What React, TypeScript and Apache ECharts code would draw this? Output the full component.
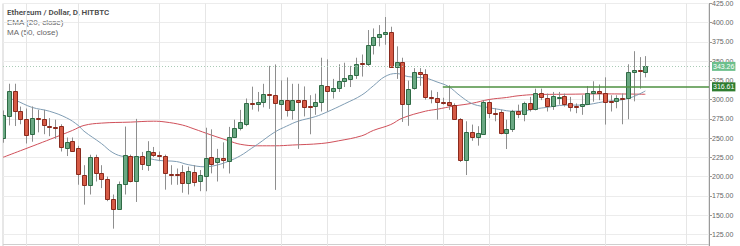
import React, { useEffect, useRef } from "react";
import * as echarts from "echarts";

// ---- candle values, index = day ----
const opens = [
  249.6, 279.4, 311.4, 284.7, 275.4, 255.1, 276.3, 275, 265.5, 264.6,
  265.7, 236.9, 246.2, 236.9, 202, 189.4, 225.4, 205, 197, 170.3,
  157.6, 190.2, 226.7, 193.7, 226.7, 214.7, 232.4, 228.6, 227.4, 203.9,
  203.5, 205.4, 192.2, 206.6, 194.8, 200.7, 225.3, 218.5, 224.8, 220.2,
  251.5, 263.4, 268.5, 295.1, 293.9, 296.5, 307.9, 306.6, 294.8, 299.3,
  286.6, 300.2, 299.3, 291.7, 292, 297.2, 318.4, 311.2, 314.7, 324.4,
  327.4, 332.4, 347.6, 346, 371.5, 382, 385.5, 388.4, 343, 349,
  293.9, 315.1, 336.3, 333.3, 303.6, 302.3, 296.8, 297.2, 293, 274.8,
  221.8, 257.9, 251.5, 255.7, 296.4, 282.6, 283.7, 256.7, 261.8, 285.4,
  281.2, 295.2, 288, 309.2, 302.8, 292.2, 303.2, 304.8, 295.9, 291.4,
  291.4, 294, 308.3, 310.8, 309, 298.4, 298.6, 302.6, 301.9, 336.3,
  338.8, 335.4,
];
const closes = [
  280.5, 311.4, 285.6, 275.4, 254.2, 276.3, 274.8, 266.5, 264.6, 263.5,
  239, 245.3, 233.9, 203.4, 189.4, 225.4, 204.2, 196.6, 170.3, 157.6,
  190.2, 227.5, 194.5, 227, 216.9, 233.7, 228.2, 226.5, 204.1, 203.2,
  203, 192.2, 207.5, 193, 202, 224.4, 216.8, 224.4, 221.5, 252,
  263.4, 271, 295.1, 293.9, 296.9, 307.9, 306.6, 296.1, 299.3, 286.6,
  300.2, 297.2, 290.8, 290.8, 297.2, 319.6, 311.2, 315.5, 324.4, 327.8,
  332.4, 346.8, 346, 371.5, 381.3, 385.5, 387.6, 343, 349.4, 294.3,
  314.3, 336.3, 333.3, 303.6, 303.2, 297.2, 296.4, 293, 274.8, 221.8,
  257.9, 251.5, 256.2, 296.4, 282.4, 282.2, 257, 261.8, 284.6, 281.6,
  295.2, 288, 309.2, 303.6, 292.2, 305, 303.8, 295, 290.8, 291,
  294, 308.3, 311.7, 308.7, 297.3, 297.6, 302.8, 302.2, 336.3, 338.4,
  336.7, 343.26,
];
const lows = [
  244, 266.5, 265.7, 268, 243, 245.3, 257.5, 255.1, 252.5, 249,
  232.6, 226.7, 232.6, 189.4, 163.5, 176.7, 193.6, 185, 168, 132.3,
  156.8, 176.7, 192.5, 167, 208.5, 207.5, 225.5, 220, 183, 189.4,
  189.3, 179, 176.7, 187.3, 181, 180.9, 204.2, 193.6, 210.6, 204,
  250, 260, 265.5, 287, 284.6, 290, 288, 182.7, 274, 278,
  274, 236, 278.2, 255, 280.3, 284.6, 284.6, 301.5, 310, 316.4,
  316.4, 327, 330, 343.9, 358.7, 369.3, 371.4, 341.8, 327, 271,
  266, 313, 318, 300, 295.2, 274, 293.5, 286.7, 274, 218.9,
  202, 246.5, 240.2, 255, 276, 271.9, 254.9, 235.8, 258, 276,
  271.9, 284.6, 286, 299.4, 284.6, 286.7, 293.5, 291, 284.6, 282.4,
  280.3, 293, 297.3, 299.4, 267.6, 284.6, 288.8, 268, 274.6, 297.8,
  314.3, 329,
];
const highs = [
  286, 320.7, 320.7, 291, 288.5, 291.2, 286.8, 286.8, 276, 274,
  268, 250.8, 250.8, 240, 214.8, 228.4, 228.4, 214.8, 200, 176.7,
  193.6, 265, 228.5, 275, 232, 246, 238.5, 232.6, 228.5, 214.8,
  210.5, 214.8, 213, 214.8, 208.5, 263.5, 261.4, 236, 244.5, 264.6,
  274, 286.7, 301.5, 316.9, 310, 320.6, 343.9, 345.8, 325, 328.9,
  320.6, 320.6, 317.2, 305.8, 307.8, 354.5, 352.4, 327, 346, 348,
  343.9, 354.5, 358.7, 390.5, 392.6, 396.9, 407.4, 394.8, 369.3, 354.5,
  324.8, 341, 341, 339.6, 312.1, 310, 302.5, 318.7, 295.2, 276,
  271.9, 267.6, 265.5, 299.4, 299.4, 288.8, 286.7, 274, 286.7, 293.5,
  297.3, 303.6, 314.3, 314.3, 307.9, 310, 310, 307.9, 303.6, 295.1,
  305.8, 317.7, 323.9, 319.7, 329, 305.8, 305.8, 308, 346, 363,
  355.3, 356.6,
];

// ---- indicator lines read at sample days ----
const emaDays = [1, 2, 5, 8, 11, 13, 14, 17, 19, 21, 24, 27, 30, 32, 35, 37, 39, 41, 43, 44, 47, 49, 51, 54, 56, 59, 62, 64, 66, 68, 70, 73, 75, 77, 79, 81, 83, 86, 88, 90, 92, 94, 97, 100, 104, 108, 111];
const emaValues = [301, 299.6, 290, 285, 276.3, 266.5, 259, 243, 231, 226, 225, 221, 219.5, 215.5, 212.7, 215, 220, 227, 237, 242, 258, 265.5, 272, 278, 284, 294.5, 306, 318, 330, 334, 330, 328, 323, 317, 305, 295, 291, 287, 285, 285.5, 288, 290, 292.8, 293, 297.5, 301.5, 311.3];
const maDays = [0, 3, 6, 9, 12, 14, 17, 22, 26, 28, 31, 33, 36, 39, 41, 44, 47, 50, 55, 58, 62, 64, 67, 69, 73, 75, 78, 81, 84, 87, 89, 92, 97, 104, 111];
const maValues = [225, 233.6, 242.2, 251, 260, 266.5, 269.5, 270.8, 272, 271, 267, 262, 254, 246.6, 242, 240, 240, 241, 243, 246.5, 253, 260, 267.6, 276, 285, 287.5, 291.8, 295.2, 300.2, 302.8, 305, 306.6, 307, 307.5, 307];

// ---- axis / annotations ----
const SLOTS = 123;
const categories = Array.from({ length: SLOTS }, (_, i) => String(i));
const dayGridLines = [4, 13, 27, 35, 48, 56, 66, 76, 84, 104, 118];
const levelValue = 316.61;
const levelStartDay = 76;
const lastClose = closes[closes.length - 1];
const titleLines = ["Ethereum / Dollar, D, HITBTC", "EMA (20, close)", "MA (50, close)"];

const UP_FILL = "#6aa883";
const UP_LINE = "#2f6b45";
const DN_FILL = "#d65a45";
const DN_LINE = "#8a2a1d";
const WICK = "#8e8e8e";
const FONT = "'Liberation Sans', Arial, sans-serif";

export default function App() {
  const ref = useRef<HTMLDivElement>(null);

  useEffect(() => {
    if (!ref.current) return;
    const chart = echarts.init(ref.current, null, { renderer: "svg" });
    const candleData = opens.map((o, i) => [i, o, closes[i], lows[i], highs[i]]);
    const ema = emaDays.map((d, i) => [d, emaValues[i]]);
    const ma = maDays.map((d, i) => [d, maValues[i]]);
    const gridSet = new Set(dayGridLines);

    const boxLabel = (text: string, bg: string) => ({
      show: true,
      position: "end",
      distance: 3,
      formatter: () => text,
      color: "#ffffff",
      backgroundColor: bg,
      fontSize: 7,
      fontFamily: FONT,
      lineHeight: 8,
      padding: [1, 1, 0, 1],
    });

    chart.setOption({
      animation: false,
      backgroundColor: "#ffffff",
      grid: {
        left: 3,
        right: 31,
        top: 1,
        bottom: 0,
        show: true,
        borderColor: "#cfcfcf",
        borderWidth: 1,
      },
      xAxis: {
        type: "category",
        data: categories,
        boundaryGap: false,
        axisLine: { show: false },
        axisTick: { show: false },
        axisLabel: { show: false },
        splitLine: {
          show: true,
          interval: (index: number) => gridSet.has(index),
          lineStyle: { color: "#e6e6e6", width: 1 },
        },
      },
      yAxis: {
        type: "value",
        position: "right",
        min: 100,
        max: 425,
        interval: 25,
        axisLine: { show: true, lineStyle: { color: "#9a9a9a" } },
        axisTick: { show: true, length: 3, lineStyle: { color: "#9a9a9a" } },
        axisLabel: {
          color: "#666",
          fontSize: 7,
          fontFamily: FONT,
          margin: 3,
          formatter: (v: number) => v.toFixed(2),
        },
        splitLine: { show: true, lineStyle: { color: "#ececec" } },
      },
      graphic: [
        {
          type: "line",
          shape: { x1: 3, y1: 244.5, x2: 709, y2: 244.5 },
          style: { stroke: "#cfcfcf", lineWidth: 1 },
          silent: true,
        },
        ...titleLines.map((t, i) => ({
          type: "text",
          left: 7,
          top: 8 + i * 10,
          style: {
            text: t,
            fill: i === 0 ? "#4a4a4a" : "#666",
            fontSize: 8,
            fontWeight: i === 0 ? 600 : 400,
            fontFamily: i === 0 ? "Roboto, sans-serif" : FONT,
          },
          silent: true,
        })),
      ],
      series: [
        {
          name: "MA (50, close)",
          type: "line",
          data: ma,
          smooth: 0.4,
          symbol: "none",
          z: 2,
          lineStyle: { color: "#d0505a", width: 1 },
        },
        {
          name: "EMA (20, close)",
          type: "line",
          data: ema,
          smooth: 0.4,
          symbol: "none",
          z: 2,
          lineStyle: { color: "#7f9db4", width: 1 },
          markLine: {
            silent: true,
            symbol: ["none", "none"],
            animation: false,
            z: 10,
            data: [
              {
                yAxis: lastClose,
                lineStyle: { color: "#a9cbb6", type: [1, 2], width: 1 },
                label: boxLabel(lastClose.toFixed(2), "#6cbf8c"),
              },
              [
                {
                  coord: [levelStartDay, levelValue],
                  lineStyle: { color: "#4e9140", type: "solid", width: 1.6 },
                  label: boxLabel(levelValue.toFixed(2), "#2f7d2f"),
                },
                { coord: [SLOTS - 1, levelValue] },
              ],
            ],
          },
        },
        {
          name: "Candles",
          type: "custom",
          clip: true,
          z: 3,
          data: candleData,
          encode: { x: 0, y: [1, 2, 3, 4] },
          renderItem: (_params: any, api: any) => {
            const k = api.value(0);
            const o = api.value(1);
            const c = api.value(2);
            const l = api.value(3);
            const h = api.value(4);
            const pO = api.coord([k, o]);
            const pC = api.coord([k, c]);
            const pL = api.coord([k, l]);
            const pH = api.coord([k, h]);
            const cx = Math.round(pO[0]);
            const up = c >= o;
            const yTop = Math.round(Math.min(pO[1], pC[1])) + 0.5;
            const yBot = Math.round(Math.max(pO[1], pC[1])) + 0.5;
            const hgt = Math.max(yBot - yTop, 1);
            return {
              type: "group",
              children: [
                {
                  type: "line",
                  shape: { x1: cx + 0.5, y1: pH[1], x2: cx + 0.5, y2: pL[1] },
                  style: { stroke: WICK, lineWidth: 1 },
                },
                {
                  type: "rect",
                  shape: { x: cx - 1.5, y: yTop, width: 4, height: hgt },
                  style: {
                    fill: up ? UP_FILL : DN_FILL,
                    stroke: up ? UP_LINE : DN_LINE,
                    lineWidth: 1,
                  },
                },
              ],
            };
          },
        },
      ],
    });

    return () => chart.dispose();
  }, []);

  return (
    <div
      ref={ref}
      style={{ position: "fixed", left: 0, top: 0, width: 740, height: 257, background: "#fff" }}
    />
  );
}
